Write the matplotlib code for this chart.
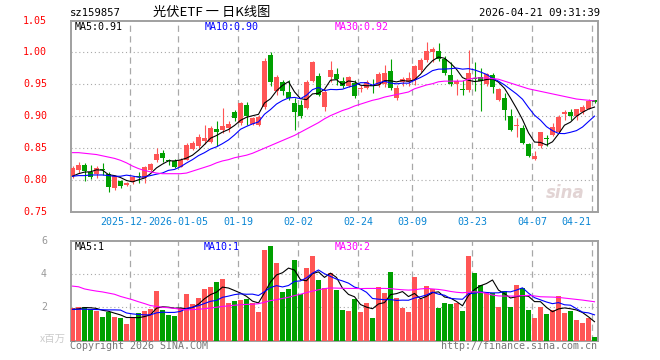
import numpy as np
import pandas as pd
import matplotlib
matplotlib.use("Agg")
import matplotlib.pyplot as plt

plt.rcParams['font.family'] = ['DejaVu Sans Mono']

# ---------------- data ----------------
opens = [0.806, 0.816, 0.824, 0.812, 0.809, 0.818, 0.809, 0.788, 0.798, 0.792,
         0.797, 0.806, 0.804, 0.816, 0.831, 0.842, 0.831, 0.830, 0.821, 0.832,
         0.849, 0.854, 0.862, 0.860, 0.880, 0.879, 0.881, 0.906, 0.889, 0.918,
         0.888, 0.887, 0.915, 0.996, 0.940, 0.954, 0.9375, 0.921, 0.918, 0.913,
         0.955, 0.963, 0.915, 0.962, 0.966, 0.955, 0.948, 0.9516, 0.943, 0.945,
         0.949, 0.949, 0.950, 0.971, 0.928, 0.954, 0.954, 0.957, 0.973, 0.988,
         1.001, 1.0026, 0.990, 0.965, 0.950, 0.942, 0.941, 0.960, 0.962, 0.950,
         0.9646, 0.9255, 0.929, 0.901, 0.884, 0.881, 0.857, 0.833, 0.853, 0.866,
         0.871, 0.876, 0.903, 0.907, 0.900, 0.906, 0.912, 0.925]
highs = [0.822, 0.829, 0.826, 0.824, 0.822, 0.827, 0.812, 0.808, 0.800, 0.797,
         0.807, 0.812, 0.822, 0.827, 0.850, 0.847, 0.833, 0.833, 0.834, 0.858,
         0.862, 0.872, 0.886, 0.884, 0.892, 0.913, 0.892, 0.910, 0.922, 0.923,
         0.899, 0.902, 0.991, 1.000, 0.965, 0.957, 0.957, 0.928, 0.925, 0.957,
         0.987, 0.967, 0.943, 0.987, 0.975, 0.962, 0.9635, 0.957, 0.949, 0.957,
         0.959, 0.969, 0.981, 0.990, 0.949, 0.962, 0.970, 0.980, 0.991, 1.016,
         1.009, 1.014, 0.995, 0.985, 0.959, 0.957, 1.004, 0.985, 0.975, 0.967,
         0.967, 0.944, 0.936, 0.912, 0.897, 0.886, 0.858, 0.845, 0.876, 0.871,
         0.889, 0.902, 0.910, 0.912, 0.912, 0.918, 0.927, 0.9255]
lows = [0.803, 0.811, 0.799, 0.802, 0.803, 0.808, 0.782, 0.784, 0.7875, 0.790,
        0.794, 0.795, 0.795, 0.815, 0.829, 0.829, 0.8234, 0.819, 0.820, 0.831,
        0.847, 0.850, 0.857, 0.858, 0.854, 0.874, 0.875, 0.892, 0.887, 0.887,
        0.886, 0.885, 0.912, 0.948, 0.933, 0.933, 0.925, 0.879, 0.897, 0.912,
        0.954, 0.931, 0.908, 0.954, 0.949, 0.944, 0.946, 0.929, 0.938, 0.942,
        0.936, 0.946, 0.946, 0.941, 0.926, 0.948, 0.947, 0.949, 0.970, 0.985,
        0.985, 0.987, 0.965, 0.948, 0.933, 0.933, 0.938, 0.940, 0.909, 0.948,
        0.936, 0.924, 0.894, 0.877, 0.868, 0.857, 0.836, 0.831, 0.851, 0.853,
        0.869, 0.873, 0.894, 0.894, 0.894, 0.904, 0.911, 0.921]
closes = [0.819, 0.824, 0.8135, 0.805, 0.819, 0.816, 0.789, 0.806, 0.790, 0.796,
          0.805, 0.805, 0.820, 0.8245, 0.841, 0.835, 0.830, 0.820, 0.832, 0.855,
          0.858, 0.868, 0.866, 0.881, 0.876, 0.885, 0.888, 0.898, 0.921, 0.900,
          0.897, 0.899, 0.987, 0.954, 0.962, 0.940, 0.928, 0.907, 0.901, 0.954,
          0.985, 0.933, 0.9385, 0.972, 0.958, 0.947, 0.961, 0.932, 0.945, 0.954,
          0.947, 0.966, 0.967, 0.944, 0.945, 0.958, 0.960, 0.978, 0.988, 1.003,
          1.006, 0.989, 0.968, 0.950, 0.955, 0.941, 0.968, 0.958, 0.955, 0.966,
          0.946, 0.942, 0.910, 0.879, 0.885, 0.858, 0.838, 0.838, 0.876, 0.865,
          0.883, 0.899, 0.907, 0.900, 0.911, 0.914, 0.924, 0.923]
volumes = [1.97, 2.0, 2.0, 1.9, 1.77, 1.41, 1.71, 1.43, 1.37, 0.99,
           1.41, 1.65, 1.77, 1.91, 2.97, 1.83, 1.53, 1.47, 1.97, 2.77,
           2.17, 2.53, 3.11, 3.21, 3.51, 3.69, 2.25, 2.37, 2.45, 2.51,
           2.25, 1.71, 5.43, 5.67, 4.65, 2.91, 3.11, 4.83, 2.77, 4.33,
           5.07, 3.63, 3.17, 4.05, 3.03, 1.83, 1.77, 2.47, 1.71, 2.25,
           1.35, 3.21, 2.87, 4.11, 2.55, 1.97, 1.71, 3.81, 2.51, 3.27,
           3.07, 1.97, 2.25, 2.19, 2.25, 1.77, 5.07, 4.05, 3.33, 2.91,
           2.83, 2.03, 2.97, 2.03, 3.33, 3.13, 1.83, 1.37, 2.01, 1.61,
           1.83, 2.67, 1.67, 1.77, 1.23, 1.07, 1.37, 0.21]
# MA values at the left edge depend on days before the window
ma5_head = [0.806, 0.810, 0.8125, 0.813]
ma10_head = [0.806, 0.807, 0.807, 0.808, 0.808, 0.808, 0.807, 0.806, 0.806]
vol_ma5_head = [1.87, 1.90, 1.98, 1.97]
vol_ma10_head = [1.87, 1.88, 1.88, 1.87, 1.86, 1.85, 1.84, 1.84, 1.83]
ma30_price = [0.843, 0.843, 0.842, 0.841, 0.840, 0.838, 0.836, 0.834, 0.831, 0.827,
              0.822, 0.818, 0.815, 0.813, 0.811, 0.810, 0.810, 0.810, 0.810, 0.811,
              0.814, 0.817, 0.820, 0.823, 0.827, 0.830, 0.832, 0.835, 0.837, 0.839,
              0.842, 0.846, 0.850, 0.854, 0.858, 0.862, 0.866, 0.870, 0.875, 0.880,
              0.885, 0.890, 0.896, 0.901, 0.905, 0.909, 0.912, 0.916, 0.919, 0.922,
              0.925, 0.927, 0.930, 0.932, 0.934, 0.936, 0.938, 0.943, 0.946, 0.949,
              0.951, 0.954, 0.955, 0.955, 0.955, 0.955, 0.958, 0.960, 0.960, 0.960,
              0.959, 0.958, 0.955, 0.952, 0.949, 0.946, 0.943, 0.941, 0.939, 0.937,
              0.935, 0.933, 0.931, 0.929, 0.927, 0.926, 0.925, 0.924]
ma30_vol = [3.27, 3.23, 3.10, 3.03, 2.97, 2.92, 2.85, 2.78, 2.65, 2.55,
            2.45, 2.33, 2.22, 2.10, 2.05, 2.00, 1.97, 1.93, 1.88, 1.84,
            1.86, 1.88, 1.91, 1.95, 2.00, 2.05, 2.08, 2.12, 2.15, 2.17,
            2.18, 2.21, 2.30, 2.40, 2.45, 2.53, 2.60, 2.70, 2.78, 2.88,
            2.97, 3.05, 3.12, 3.16, 3.15, 3.14, 3.13, 3.13, 3.12, 3.13,
            3.13, 3.13, 3.13, 3.12, 3.08, 3.05, 3.03, 3.05, 3.10, 3.13,
            3.10, 3.07, 3.02, 2.95, 2.90, 2.87, 2.90, 2.93, 2.90, 2.83,
            2.73, 2.68, 2.67, 2.67, 2.67, 2.70, 2.71, 2.68, 2.63, 2.62,
            2.61, 2.59, 2.55, 2.51, 2.47, 2.43, 2.38, 2.33]
tick_idx = [10, 18, 28, 38, 48, 57, 67, 77, 87]
tick_labels = ["2025-12-", "2026-01-05", "01-19", "02-02", "02-24",
               "03-09", "03-23", "04-07", "04-21"]
price_ticks = [0.75, 0.80, 0.85, 0.90, 0.95, 1.00, 1.05]
vol_ticks = [2, 4, 6]

# ---------------- style ----------------
W, H = 660, 360
RED = '#ff5555'
GREEN = '#00a000'
GRID = '#a8a8a8'
BORDER = '#a0a0a0'
MONO = 7.2

fig = plt.figure(figsize=(6.6, 3.6), dpi=100)
fig.patch.set_facecolor('white')

L, R = 70.7, 598.0
ax = fig.add_axes([L / W, 1 - 212 / H, (R - L) / W, (212 - 20.5) / H])
axv = fig.add_axes([L / W, 1 - 340.5 / H, (R - L) / W, (340.5 - 240.7) / H])

n = len(closes)
x = np.arange(n)
o = np.array(opens); c = np.array(closes); h = np.array(highs); l = np.array(lows)
up = c >= o
cols = np.where(up, RED, GREEN)
xlim = ((L - 72.5) / 6, (R - 72.5) / 6)
grid_off = -0.37


def moving(series, win, head):
    m = pd.Series(series).rolling(win).mean().to_numpy()
    m[:len(head)] = head
    return m


# price panel
ax.vlines(x, l, h, colors=cols, linewidth=0.8, zorder=3)
body_bot = np.minimum(o, c)
body_h = np.maximum(np.abs(c - o), 0.0016)
ax.bar(x, body_h, bottom=body_bot, width=0.8, color=cols, linewidth=0, zorder=4)

ax.plot(x, moving(closes, 5, ma5_head), color='black', lw=0.8, zorder=5)
ax.plot(x, moving(closes, 10, ma10_head), color='#0000ff', lw=0.8, zorder=5)
ax.plot(x, ma30_price, color='#ff00ff', lw=0.8, zorder=5)

ax.set_xlim(*xlim)
ax.set_ylim(0.75, 1.05)
for yv in price_ticks[1:-1]:
    ax.axhline(yv, color=GRID, lw=0.8, linestyle=(0, (1, 2.5)), zorder=1)
for ti in tick_idx:
    ax.axvline(ti + grid_off, color=GRID, lw=0.9, linestyle=(0, (5, 3.5)), zorder=1)
ax.set_xticks([]); ax.set_yticks([])
for yv in price_ticks:
    ax.text(-0.045, yv, f"{yv:.2f}", transform=ax.get_yaxis_transform(),
            ha='right', va='center', color='#ff0000', fontsize=MONO)
for s in ax.spines.values():
    s.set_color(BORDER); s.set_linewidth(1.4)

# date labels
trans = matplotlib.transforms.blended_transform_factory(ax.transData, fig.transFigure)
for k, (ti, lab) in enumerate(zip(tick_idx, tick_labels)):
    xx = ti + grid_off
    ha = 'center'
    if k == 0:
        xx = (100 - 72.5) / 6
        ha = 'left'
    if lab == "04-21":
        xx = (576 - 72.5) / 6
    ax.text(xx, 1 - 221.7 / H, lab, transform=trans, ha=ha, va='center',
            color='#0a86d4', fontsize=MONO)

# MA labels
fig.text(75 / W, 1 - 26.7 / H, "MA5:0.91", color='black', fontsize=MONO, va='center')
fig.text(205 / W, 1 - 26.7 / H, "MA10:0.90", color='#0000ff', fontsize=MONO, va='center')
fig.text(335 / W, 1 - 26.7 / H, "MA30:0.92", color='#ff00ff', fontsize=MONO, va='center')

# sina watermark
ax.text(0.975, 0.10, "sina", transform=ax.transAxes, ha='right', va='center',
        fontsize=12, fontstyle='italic', fontweight='bold', color='#e2d4d4',
        family='DejaVu Sans', zorder=0)

# volume panel
axv.bar(x, volumes, width=0.8, color=cols, linewidth=0, zorder=3)
axv.plot(x, moving(volumes, 5, vol_ma5_head), color='black', lw=0.8, zorder=5)
axv.plot(x, moving(volumes, 10, vol_ma10_head), color='#0000ff', lw=0.8, zorder=5)
axv.plot(x, ma30_vol, color='#ff00ff', lw=0.8, zorder=5)
axv.set_xlim(*xlim)
axv.set_ylim(0, 6)
for yv in [2, 4]:
    axv.axhline(yv, color=GRID, lw=0.8, linestyle=(0, (1, 2.5)), zorder=1)
for ti in tick_idx:
    axv.axvline(ti + grid_off, color=GRID, lw=0.9, linestyle=(0, (5, 3.5)), zorder=1)
axv.set_xticks([]); axv.set_yticks([])
for yv in vol_ticks:
    axv.text(-0.045, yv, f"{yv}", transform=axv.get_yaxis_transform(),
             ha='right', va='center', color='#999999', fontsize=MONO)
for s in axv.spines.values():
    s.set_color(BORDER); s.set_linewidth(1.4)

fig.text(75 / W, 1 - 247 / H, "MA5:1", color='black', fontsize=MONO, va='center')
fig.text(204 / W, 1 - 247 / H, "MA10:1", color='#0000ff', fontsize=MONO, va='center')
fig.text(335 / W, 1 - 247 / H, "MA30:2", color='#ff00ff', fontsize=MONO, va='center')

fig.text(66 / W, 1 - 339 / H, "x百万", color='#cccccc', fontsize=7.5, ha='right', va='center',
         family=['Noto Sans CJK SC', 'DejaVu Sans'])
fig.text(70 / W, 1 - 346 / H, "Copyright 2026 SINA.COM", color='#777777', fontsize=MONO, va='center')
fig.text(597 / W, 1 - 346 / H, "http://finance.sina.com.cn", color='#777777', fontsize=MONO,
         ha='right', va='center')

# title
fig.text(70 / W, 1 - 12.5 / H, "sz159857", color='black', fontsize=7.6, va='center')
fig.text(212 / W, 1 - 12.5 / H, "光伏ETF 一 日K线图", color='black', fontsize=9.5,
         ha='center', va='center', family=['Noto Sans CJK SC', 'DejaVu Sans'])
fig.text(600 / W, 1 - 12.5 / H, "2026-04-21 09:31:39", color='black', fontsize=7.6,
         ha='right', va='center')

fig.savefig("out.png", dpi=100, facecolor='white')
